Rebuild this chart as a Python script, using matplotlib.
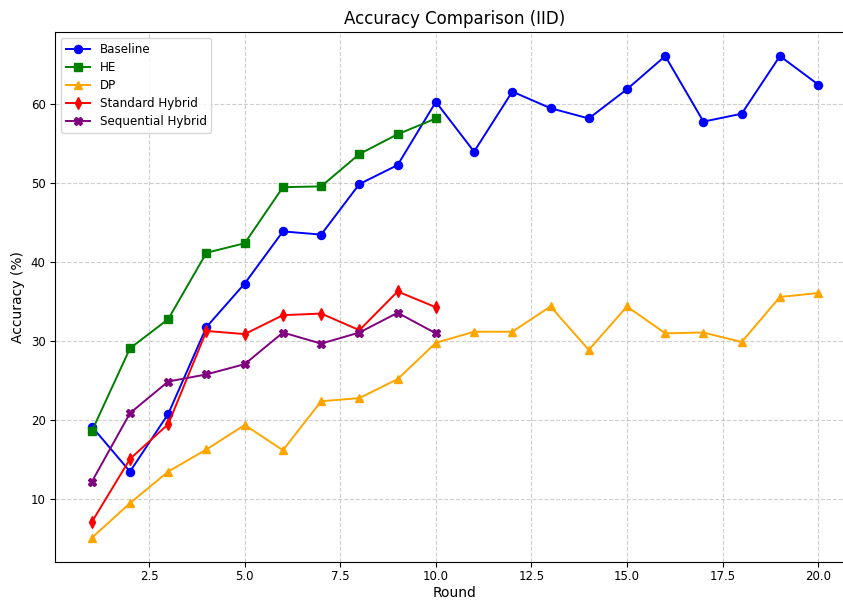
import matplotlib
matplotlib.use("Agg")
import matplotlib.pyplot as plt

rounds = list(range(1, 21))
baseline = [19.2, 13.5, 20.8, 31.8, 37.3, 43.9, 43.5, 49.9, 52.3, 60.3,
            54.0, 61.6, 59.5, 58.2, 61.9, 66.1, 57.8, 58.8, 66.1, 62.5]
he = [18.6, 29.1, 32.8, 41.2, 42.4, 49.5, 49.6, 53.7, 56.2, 58.2]
dp = [5.1, 9.5, 13.5, 16.3, 19.4, 16.2, 22.4, 22.8, 25.2, 29.8,
      31.2, 31.2, 34.4, 28.9, 34.4, 31.0, 31.1, 29.9, 35.6, 36.1]
std_hybrid = [7.1, 15.1, 19.5, 31.3, 30.9, 33.3, 33.5, 31.4, 36.3, 34.3]
seq_hybrid = [12.2, 20.9, 24.9, 25.8, 27.1, 31.1, 29.7, 31.1, 33.6, 31.0]

plt.rcParams["font.size"] = 8.5
lw, ms = 1.4, 5.8

fig, ax = plt.subplots(figsize=(8.43, 6.01), dpi=100)
ax.plot(rounds, baseline, marker="o", color="blue", lw=lw, ms=ms, label="Baseline")
ax.plot(rounds[:10], he, marker="s", color="green", lw=lw, ms=ms, label="HE")
ax.plot(rounds, dp, marker="^", color="orange", lw=lw, ms=ms, label="DP")
ax.plot(rounds[:10], std_hybrid, marker="d", color="red", lw=lw, ms=ms, label="Standard Hybrid")
ax.plot(rounds[:10], seq_hybrid, marker="X", color="purple", lw=lw, ms=ms, label="Sequential Hybrid")

ax.set_title("Accuracy Comparison (IID)", fontsize=12)
ax.set_xlabel("Round", fontsize=10, labelpad=2)
ax.set_ylabel("Accuracy (%)", fontsize=10)
ax.tick_params(axis="x", pad=2.5)
ax.grid(True, linestyle="--", alpha=0.6)
ax.legend(loc="upper left", fontsize=8.6, labelspacing=0.42)

# the source picture is cropped just inside the right spine
fig.subplots_adjust(left=0.0658, right=1.0136, top=0.9468, bottom=0.0649)
fig.savefig("out.png", dpi=100)
